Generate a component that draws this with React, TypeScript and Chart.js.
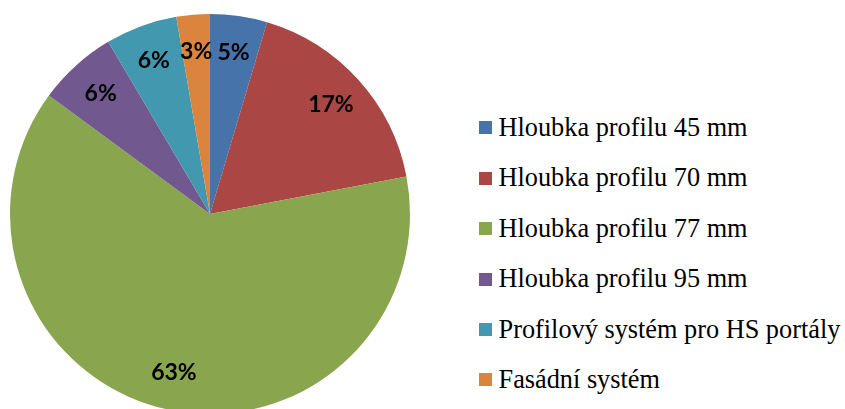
import React, { useEffect, useRef } from "react";
import { Chart, registerables } from "chart.js";

Chart.register(...registerables);

const categories = [
  "Hloubka profilu 45 mm",
  "Hloubka profilu 70 mm",
  "Hloubka profilu 77 mm",
  "Hloubka profilu 95 mm",
  "Profilový systém pro HS portály",
  "Fasádní systém",
];
const shares = [4.6, 17.4, 63.1, 6.4, 5.8, 2.7];
const colors = ["#4673AA", "#AA4643", "#89A54E", "#71588F", "#4198AF", "#DB843D"];

const total = shares.reduce((a, b) => a + b, 0);
const percentLabels = shares.map((v) => Math.round((v / total) * 100) + "%");

const sliceLabelPlugin = {
  id: "sliceLabels",
  afterDatasetsDraw(chart: any) {
    const meta = chart.getDatasetMeta(0);
    const ctx = chart.ctx;
    ctx.save();
    ctx.font = "bold 23px Lato";
    ctx.fillStyle = "#000000";
    ctx.textAlign = "center";
    ctx.textBaseline = "middle";
    meta.data.forEach((arc: any, i: number) => {
      const { x, y, startAngle, endAngle, outerRadius } = arc.getProps(
        ["x", "y", "startAngle", "endAngle", "outerRadius"],
        true
      );
      const mid = (startAngle + endAngle) / 2;
      const r = outerRadius * 0.815;
      ctx.fillText(percentLabels[i], x + Math.cos(mid) * r, y + Math.sin(mid) * r);
    });
    ctx.restore();
  },
};

export default function App() {
  const canvasRef = useRef<HTMLCanvasElement | null>(null);

  useEffect(() => {
    document.body.style.margin = "0";
    document.body.style.overflow = "hidden";
    const canvas = canvasRef.current;
    if (!canvas) return;
    const chart = new Chart(canvas, {
      type: "pie",
      data: {
        labels: categories,
        datasets: [
          {
            data: shares,
            backgroundColor: colors,
            borderWidth: 0,
            radius: 200,
          } as any,
        ],
      },
      options: {
        responsive: false,
        maintainAspectRatio: false,
        animation: false,
        layout: { padding: 0 },
        plugins: {
          legend: { display: false },
          tooltip: { enabled: false },
        },
      },
      plugins: [sliceLabelPlugin],
    });
    return () => chart.destroy();
  }, []);

  return (
    <div
      style={{
        position: "relative",
        width: 845,
        height: 409,
        overflow: "hidden",
        background: "#ffffff",
      }}
    >
      <canvas
        ref={canvasRef}
        width={420}
        height={428}
        style={{ position: "absolute", left: 0, top: 0, width: 420, height: 428 }}
      />
      <div
        style={{
          position: "absolute",
          left: 479,
          top: 102.8,
          fontFamily: '"Liberation Serif", "Times New Roman", serif',
          fontSize: 26.3,
          color: "#000000",
        }}
      >
        {categories.map((name, i) => (
          <div
            key={name}
            style={{
              display: "flex",
              alignItems: "center",
              height: 50.4,
              whiteSpace: "nowrap",
            }}
          >
            <span
              style={{
                display: "inline-block",
                width: 13,
                height: 13,
                background: colors[i],
                marginRight: 6.5,
                flex: "none",
              }}
            />
            <span style={{ lineHeight: "26px" }}>{name}</span>
          </div>
        ))}
      </div>
    </div>
  );
}
